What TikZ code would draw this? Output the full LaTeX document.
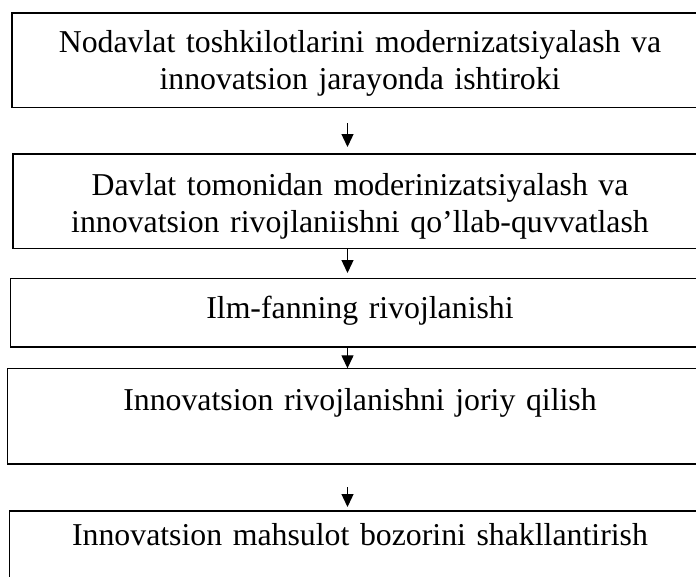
\documentclass[tikz,border=0pt]{standalone}
\usepackage{fontspec}
\setmainfont{Liberation Serif}
\usetikzlibrary{arrows.meta,positioning}

\begin{document}
\begin{tikzpicture}[
  x=1pt, y=-1pt,
  box/.style={rectangle, draw, line width=1.6pt, outer sep=0pt, inner xsep=0pt, inner ysep=0pt,
    align=center, text width=680pt, font=\fontsize{31.8}{37}\selectfont},
  arr/.style={-{Triangle[length=13pt,width=12pt]}, line width=1.3pt}
]
  \useasboundingbox (0,0) rectangle (696,576);
  \clip (0,0) rectangle (696,576);
  \coordinate (ax) at (347.5,0);

  \node[box, anchor=north, minimum width=696pt, text height=39.3pt, text depth=55.5pt] (nodavlat) at (360,12.7)
    {Nodavlat toshkilotlarini modernizatsiyalash va\\innovatsion jarayonda ishtiroki};
  \node[box, below=46.5pt of nodavlat, minimum width=694.6pt, text height=41pt, text depth=53.3pt] (davlat)
    {Davlat tomonidan moderinizatsiyalash va\\innovatsion rivojlaniishni qo’llab-quvvatlash};
  \node[box, below=30pt of davlat, minimum width=699pt, text height=39.7pt, text depth=28.7pt] (ilm)
    {Ilm-fanning rivojlanishi};
  \node[box, below=21.6pt of ilm, minimum width=705.4pt, text height=41.7pt, text depth=54pt] (joriy)
    {Innovatsion rivojlanishni joriy qilish};
  \node[box, below=47pt of joriy, minimum width=701.4pt, text height=34pt, text depth=80pt] (bozor)
    {Innovatsion mahsulot bozorini shakllantirish};

  \draw[arr, shorten <=15.5pt, shorten >=7pt] (nodavlat.south -| ax) -- (davlat.north -| ax);
  \draw[arr, shorten >=5.3pt] (davlat.south -| ax) -- (ilm.north -| ax);
  \draw[arr] (ilm.south -| ax) -- (joriy.north -| ax);
  \draw[arr, shorten <=23pt, shorten >=4pt] (joriy.south -| ax) -- (bozor.north -| ax);
\end{tikzpicture}
\end{document}
